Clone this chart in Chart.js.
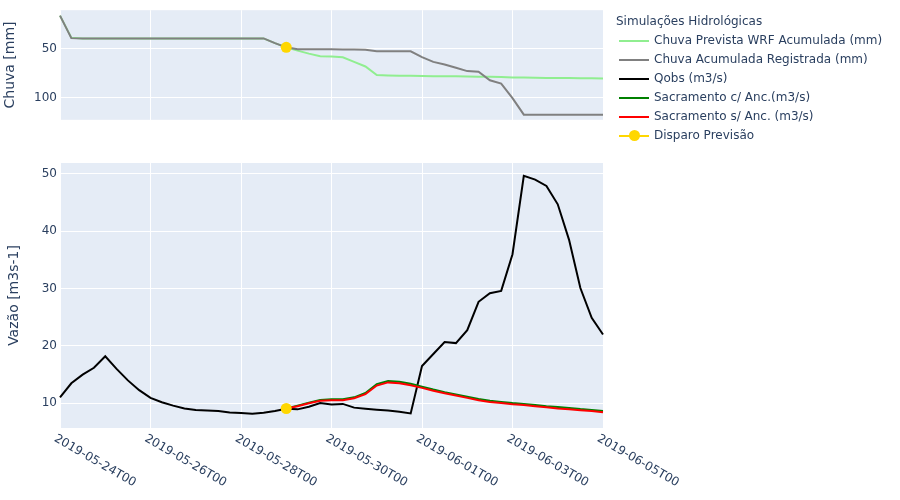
<!DOCTYPE html>
<html>
<head>
<meta charset="utf-8">
<script src="https://cdn.jsdelivr.net/npm/chart.js@4.4.1/dist/chart.umd.min.js"></script>
<style>
  html, body { margin: 0; padding: 0; background: #fff; }
  #wrap { position: relative; width: 900px; height: 500px; overflow: hidden;
          font-family: 'DejaVu Sans', verdana, arial, sans-serif; color: #2a3f5f; }
  #topBox { position: absolute; left: 0; top: 0; width: 900px; height: 130px; }
  #botBox { position: absolute; left: 0; top: 140px; width: 900px; height: 360px; }
  #legend { position: absolute; left: 616px; top: 12px; font-size: 12px; line-height: 19px; white-space: nowrap; }
  #legend .item { position: relative; padding-left: 38px; }
  #legend .swatch { position: absolute; left: 3px; top: 8.5px; width: 30px; height: 2px; }
  #legend .dot { position: absolute; left: 9.5px; top: -4.5px; width: 11px; height: 11px; border-radius: 50%; }
</style>
</head>
<body>
<div id="wrap">
  <div id="topBox"><canvas id="chuvaChart"></canvas></div>
  <div id="botBox"><canvas id="vazaoChart"></canvas></div>
  <div id="legend"></div>
</div>
<script>
// eixo temporal: passos de 6 h entre 2019-05-24T00 e 2019-06-05T00
var timeLabels = [];
var t0 = Date.UTC(2019, 4, 24);
for (var k = 0; k <= 48; k++) {
    timeLabels.push(new Date(t0 + k * 6 * 3600 * 1000).toISOString().slice(0, 13));
}
var xTickLabels = ['2019-05-24T00', '2019-05-26T00', '2019-05-28T00', '2019-05-30T00',
                   '2019-06-01T00', '2019-06-03T00', '2019-06-05T00'];
var chuvaTicks = [50, 100];
var vazaoTicks = [10, 20, 30, 40, 50];

var chuvaPrevista = [15.6, 38.3, 39.1, 39.1, 39.1, 39.1, 39.1, 39.1, 39.1, 39.1,
                     39.1, 39.1, 39.1, 39.1, 39.1, 39.1, 39.1, 39.1, 39.1, 43.9,
                     48.3, 51.7, 54.8, 57.5, 57.8, 58.5, 63.3, 68.0, 76.9, 77.3,
                     77.5, 77.7, 77.9, 78.0, 78.1, 78.2, 78.4, 78.5, 78.7, 79.0,
                     79.3, 79.5, 79.7, 79.8, 79.9, 80.0, 80.1, 80.2, 80.3];
var chuvaRegistrada = [15.6, 38.8, 39.1, 39.1, 39.1, 39.1, 39.1, 39.1, 39.1, 39.1,
                       39.1, 39.1, 39.1, 39.1, 39.1, 39.1, 39.1, 39.1, 39.1, 43.9,
                       48.3, 50.3, 50.3, 50.3, 50.3, 50.4, 50.5, 50.8, 52.4, 52.4,
                       52.4, 52.4, 58.3, 63.3, 66.0, 69.4, 72.8, 73.5, 82.3, 85.7,
                       100.7, 117.7, 117.7, 117.7, 117.7, 117.7, 117.7, 117.7, 117.7];
var qobs = [11.05, 13.5, 15.0, 16.2, 18.2, 16.0, 14.0, 12.3, 10.95, 10.2,
            9.6, 9.1, 8.85, 8.75, 8.65, 8.4, 8.3, 8.2, 8.35, 8.65,
            9.05, 8.95, 9.4, 10.05, 9.8, 9.9, 9.25, 9.07, 8.9, 8.75,
            8.55, 8.25, 16.5, 18.6, 20.7, 20.5, 22.75, 27.7, 29.2, 29.6,
            36.0, 49.65, 49.0, 47.9, 44.7, 38.5, 30.1, 24.9, 22.0];
// simulacoes a partir do disparo (2019-05-29T00)
var sacComAnc = [9.1, 9.6, 10.1, 10.6, 10.7, 10.7, 11.05, 11.8, 13.35, 13.9,
                 13.75, 13.4, 12.9, 12.4, 11.95, 11.55, 11.15, 10.75, 10.45, 10.25,
                 10.05, 9.9, 9.7, 9.5, 9.35, 9.2, 9.0, 8.85, 8.65];
var sacSemAnc = [9.1, 9.5, 10.0, 10.45, 10.55, 10.55, 10.9, 11.6, 13.1, 13.65,
                 13.5, 13.15, 12.7, 12.2, 11.75, 11.35, 10.95, 10.55, 10.25, 10.05,
                 9.85, 9.7, 9.5, 9.3, 9.1, 8.95, 8.8, 8.65, 8.45];
var disparoInicio = '2019-05-29T00';
var disparoChuva = 48.3;
var disparoVazao = 9.1;

var FONT = "'DejaVu Sans', verdana, arial, sans-serif";
var TXT = '#2a3f5f';
Chart.defaults.font.family = FONT;
Chart.defaults.font.size = 12;
Chart.defaults.color = TXT;

var iDisparo = timeLabels.indexOf(disparoInicio);
function fromDisparo(arr) {
    return arr.map(function (v, j) { return { x: timeLabels[iDisparo + j], y: v }; });
}

var plotBg = {
    id: 'plotBg',
    beforeDraw: function (chart) {
        var a = chart.chartArea, ctx = chart.ctx;
        ctx.save();
        ctx.fillStyle = '#E5ECF6';
        ctx.fillRect(a.left, a.top, a.right - a.left, a.bottom - a.top);
        ctx.restore();
    }
};

// rotulos do eixo x inclinados 30 graus, comecando no tick
var rotatedXTicks = {
    id: 'rotatedXTicks',
    afterDraw: function (chart) {
        var ctx = chart.ctx, x = chart.scales.x, a = chart.chartArea;
        ctx.save();
        ctx.font = '12px ' + FONT;
        ctx.fillStyle = TXT;
        ctx.textAlign = 'left';
        ctx.textBaseline = 'middle';
        xTickLabels.forEach(function (lbl) {
            var px = x.getPixelForValue(timeLabels.indexOf(lbl));
            ctx.save();
            ctx.translate(px - 5, a.bottom + 9.8);
            ctx.rotate(Math.PI / 6);
            ctx.fillText(lbl, 0, 0);
            ctx.restore();
        });
        ctx.restore();
    }
};

function xAxis(h) {
    return {
        type: 'category',
        ticks: { display: false },
        border: { display: false },
        grid: {
            drawTicks: false,
            lineWidth: 1,
            color: function (c) {
                return xTickLabels.indexOf(timeLabels[c.index]) >= 0 ? '#ffffff' : 'rgba(0,0,0,0)';
            }
        },
        afterFit: function (s) { s.height = h; }
    };
}

function yAxis(title, pad, min, max, tickList, rev) {
    return {
        type: 'linear',
        min: min,
        max: max,
        reverse: rev,
        border: { display: false },
        grid: { color: '#ffffff', lineWidth: 1, drawTicks: false },
        ticks: { padding: 3, font: { size: 12 } },
        title: { display: true, text: title, font: { size: 14 }, padding: { top: pad, bottom: 0 } },
        afterBuildTicks: function (s) { s.ticks = tickList.map(function (v) { return { value: v }; }); },
        afterFit: function (s) { s.width = 60; }
    };
}

var baseOpts = {
    responsive: true,
    maintainAspectRatio: false,
    animation: false,
    events: [],
    plugins: { legend: { display: false }, tooltip: { enabled: false } },
    elements: { line: { tension: 0, borderWidth: 2 }, point: { radius: 0 } }
};

var dsPrevista = { label: 'Chuva Prevista WRF Acumulada (mm)', data: chuvaPrevista,
                   borderColor: '#90EE90', backgroundColor: '#90EE90', order: 2 };
var dsRegistrada = { label: 'Chuva Acumulada Registrada (mm)', data: chuvaRegistrada,
                     borderColor: '#808080', backgroundColor: '#808080', order: 1 };
var dsDisparoTop = { label: 'Disparo Previsão', data: [{ x: disparoInicio, y: disparoChuva }],
                     borderColor: '#FFD700', backgroundColor: '#FFD700', pointRadius: 5.5,
                     pointBorderWidth: 0, order: 0 };

new Chart(document.getElementById('chuvaChart'), {
    type: 'line',
    data: { labels: timeLabels, datasets: [dsPrevista, dsRegistrada, dsDisparoTop] },
    options: Object.assign({}, baseOpts, {
        layout: { padding: { left: 0, top: 10, right: 297, bottom: 0 } },
        scales: { x: xAxis(9), y: yAxis('Chuva [mm]', 2, 10, 123, chuvaTicks, true) }
    }),
    plugins: [plotBg]
});

var dsQobs = { label: 'Qobs (m3/s)', data: qobs, borderColor: '#000000', backgroundColor: '#000000', order: 3 };
var dsCom = { label: 'Sacramento c/ Anc.(m3/s)', data: fromDisparo(sacComAnc),
              borderColor: '#008000', backgroundColor: '#008000', order: 2 };
var dsSem = { label: 'Sacramento s/ Anc. (m3/s)', data: fromDisparo(sacSemAnc),
              borderColor: '#FF0000', backgroundColor: '#FF0000', order: 1 };
var dsDisparo = { label: 'Disparo Previsão', data: [{ x: disparoInicio, y: disparoVazao }],
                  borderColor: '#FFD700', backgroundColor: '#FFD700', pointRadius: 5.5,
                  pointBorderWidth: 0, order: 0 };

new Chart(document.getElementById('vazaoChart'), {
    type: 'line',
    data: { labels: timeLabels, datasets: [dsQobs, dsCom, dsSem, dsDisparo] },
    options: Object.assign({}, baseOpts, {
        layout: { padding: { left: 0, top: 23, right: 297, bottom: 0 } },
        scales: { x: xAxis(72), y: yAxis('Vazão [m3s-1]', 6.4, 5.7, 51.9, vazaoTicks, false) }
    }),
    plugins: [plotBg, rotatedXTicks]
});

/* legenda unica para os dois paineis */
var legend = document.getElementById('legend');
var title = document.createElement('div');
title.textContent = 'Simulações Hidrológicas';
legend.appendChild(title);
[dsPrevista, dsRegistrada, dsQobs, dsCom, dsSem, dsDisparo].forEach(function (ds) {
    var item = document.createElement('div');
    item.className = 'item';
    var sw = document.createElement('span');
    sw.className = 'swatch';
    sw.style.background = ds.borderColor;
    if (ds.pointRadius) {
        var dot = document.createElement('span');
        dot.className = 'dot';
        dot.style.background = ds.backgroundColor;
        sw.appendChild(dot);
    }
    item.appendChild(sw);
    item.appendChild(document.createTextNode(ds.label));
    legend.appendChild(item);
});
</script>
</body>
</html>
